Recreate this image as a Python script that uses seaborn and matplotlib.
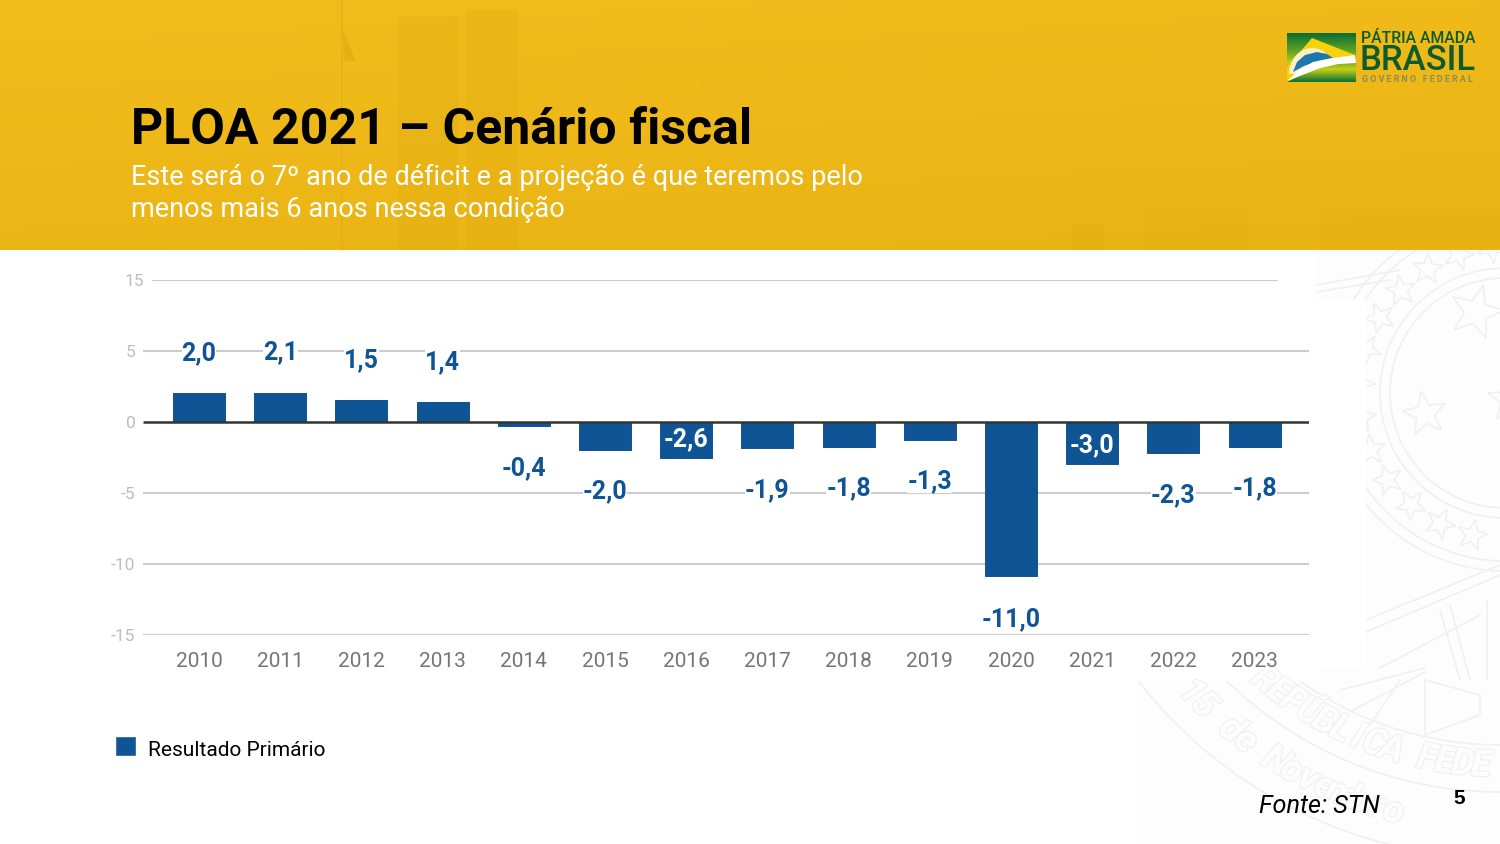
import numpy as np
import pandas as pd
import matplotlib.pyplot as plt
import matplotlib.patheffects as pe
from matplotlib.colors import LinearSegmentedColormap
from matplotlib.patches import Circle, Polygon, Rectangle
from matplotlib.transforms import ScaledTranslation
import seaborn as sns

anos = ["2010", "2011", "2012", "2013", "2014", "2015", "2016",
        "2017", "2018", "2019", "2020", "2021", "2022", "2023"]
# valores escritos nos rotulos
rotulos = [2.0, 2.1, 1.5, 1.4, -0.4, -2.0, -2.6,
           -1.9, -1.8, -1.3, -11.0, -3.0, -2.3, -1.8]
# altura das barras como aparecem no slide
barras = [2.05, 2.05, 1.55, 1.4, -0.3, -1.95, -2.5,
          -1.85, -1.75, -1.25, -10.85, -2.95, -2.2, -1.75]
rotulos_dentro = ["2016", "2021"]
ytick_pos = [10, 5, 0, -5, -10, -15]
ytick_txt = ["15", "5", "0", "-5", "-10", "-15"]

AZUL = "#0F5495"
W, H = 1500, 844

sns.set_theme(style="white")
plt.rcParams["font.family"] = ["Roboto", "DejaVu Sans"]

fig = plt.figure(figsize=(15, 8.44), dpi=100, facecolor="white")


def px_box(x0, y0, x1, y1):
    return [x0 / W, 1 - y1 / H, (x1 - x0) / W, (y1 - y0) / H]


def star(cx, cy, r, rot=0.0):
    ang = np.deg2rad(rot - 90 + np.arange(10) * 36)
    rad = np.where(np.arange(10) % 2 == 0, r, r * 0.42)
    return np.column_stack([cx + rad * np.cos(ang), cy + rad * np.sin(ang)])


def text_on_arc(ax, txt, cx, cy, r, start, step, clip, size):
    for i, ch in enumerate(txt):
        a = start + i * step
        x = cx + r * np.sin(np.deg2rad(a))
        y = cy + r * np.cos(np.deg2rad(a))
        t = ax.text(x, y, ch, rotation=a, rotation_mode="anchor", ha="center", va="center",
                    fontsize=size, fontweight="bold", fontstyle="italic", color="#fdfdfd", zorder=2,
                    path_effects=[pe.withStroke(linewidth=1.4, foreground="#eeeeee")])
        t.set_clip_path(clip)


# fundo: faixa amarela, brasao e logo
bg = fig.add_axes([0, 0, 1, 1], zorder=0)
bg.set_xlim(0, W)
bg.set_ylim(H, 0)
bg.axis("off")

faixa = LinearSegmentedColormap.from_list("faixa", ["#F1BD1B", "#EEB918", "#E9B413"])
gx, gy = np.meshgrid(np.linspace(0, 1, 60), np.linspace(0, 1, 30))
bg.imshow(0.25 * gx + 0.75 * gy, extent=[0, W, 250, 0], cmap=faixa, aspect="auto", zorder=0)

# predios e mastro apagados
for x0, y0, x1, y1, a in [(398, 16, 458, 250, 0.35), (466, 10, 518, 250, 0.35),
                          (1073, 225, 1103, 250, 0.4), (1143, 208, 1250, 250, 0.2),
                          (1320, 210, 1500, 250, 0.2), (0, 240, 170, 250, 0.2)]:
    bg.add_patch(Rectangle((x0, y0), x1 - x0, y1 - y0, fc="#E2AC10", ec="none", alpha=a, zorder=1))
bg.plot([342, 342], [0, 250], color="#DDAA18", lw=1.2, alpha=0.5, zorder=1)
bg.add_patch(Polygon([(343, 30), (356, 62), (344, 60)], fc="#D9A614", ec="none", alpha=0.5, zorder=1))

# brasao (marca d'agua)
recorte = Polygon([(1316, 250), (1316, 300), (1366, 300), (1366, 668), (1320, 668), (1320, 681),
                   (1137, 681), (1137, 844), (1500, 844), (1500, 250)],
                  fc="#FDFDFD", ec="none", zorder=1)
bg.add_patch(recorte)
LINHA = "#F0F0F0"
cx, cy = 1505, 393
for r in [115, 125, 168, 178, 345, 392, 458]:
    c = Circle((cx if r < 300 else 1500, cy if r < 300 else 400), r, fc="none", ec=LINHA, lw=1.2, zorder=2)
    bg.add_patch(c)
    c.set_clip_path(recorte)
for a in np.arange(-175, -5, 13.5):
    pts = star(cx + 146 * np.sin(np.deg2rad(a)), cy + 146 * np.cos(np.deg2rad(a)), 16, rot=-a)
    p = Polygon(pts, fc="none", ec=LINHA, lw=1.2, zorder=2)
    bg.add_patch(p)
    p.set_clip_path(recorte)
for sx, sy, sr, rot in [(1425, 414, 23, -10), (1476, 312, 28, 15), (1510, 400, 23, 0)]:
    p = Polygon(star(sx, sy, sr, rot), fc="none", ec=LINHA, lw=1.2, zorder=2)
    bg.add_patch(p)
    p.set_clip_path(recorte)
for xs, ys in [((1366, 1500), (620, 565)), ((1366, 1500), (632, 575)), ((1380, 1480), (668, 615)),
               ((1425, 1425), (680, 735)), ((1425, 1480), (680, 695)), ((1425, 1480), (735, 715)),
               ((1480, 1480), (695, 715)), ((1316, 1400), (285, 270)), ((1316, 1390), (292, 280)),
               ((1340, 1425), (690, 668)), ((1350, 1425), (712, 672)), ((1370, 1400), (725, 680)),
               ((1487, 1487), (600, 680)), ((1440, 1460), (610, 680)), ((1450, 1470), (605, 680))]:
    ln, = bg.plot(xs, ys, color=LINHA, lw=1.2, zorder=2)
    ln.set_clip_path(recorte)
text_on_arc(bg, "REPÚBLICA FEDE", 1500, 400, 366, -40, 2.85, recorte, 27)
text_on_arc(bg, "15 de Novembro", 1500, 400, 425, -46.6, 2.47, recorte, 27)

# logo
verde = LinearSegmentedColormap.from_list(
    "verde", [(0, "#0B6F33"), (0.4, "#6BAA20"), (0.62, "#C9D012"), (1, "#0B7236")])
grad = np.linspace(0, 1, 50).reshape(-1, 1)
bg.imshow(grad, extent=[1287, 1356, 82, 33], cmap=verde, aspect="auto", zorder=3)
bg.add_patch(Polygon([(1287, 67), (1312, 38), (1355, 55), (1340, 68), (1297, 80), (1287, 82)],
                     fc="#F6D20A", ec="none", zorder=4))
tt = np.linspace(0, np.pi, 30)
bg.add_patch(Polygon(np.column_stack([1312 + 23 * np.cos(tt), 74 - 26 * np.sin(tt)]),
                     fc="#FBEFC4", ec="none", zorder=5))
bg.add_patch(Polygon([(1293, 72), (1297, 62), (1305, 55), (1317, 52), (1327, 54), (1333, 58), (1318, 61), (1304, 66)],
                     fc="#1F77AE", ec="none", zorder=6))
bg.add_patch(Polygon([(1287, 81), (1298, 71), (1313, 62), (1333, 58), (1355, 55), (1356, 63), (1338, 64),
                      (1320, 68), (1297, 77)], fc="white", ec="none", zorder=7))
baixo = Polygon([(1287, 82), (1297, 77), (1320, 68), (1338, 64), (1356, 63), (1356, 82)],
                fc="none", ec="none", zorder=6)
bg.add_patch(baixo)
baixo_img = bg.imshow(grad[20:], extent=[1287, 1356, 82, 62], cmap=verde, vmin=0, vmax=1, aspect="auto", zorder=6)
baixo_img.set_clip_path(baixo)
bg.text(1361, 38.5, "PÁTRIA AMADA", fontsize=11.3, fontweight="medium", color="#0F5A2C", va="center", zorder=8)
bg.text(1360, 61, "BRASIL", fontsize=25, fontweight="medium", color="#0F5A2C", va="center", zorder=8)
bg.text(1362, 79, "G O V E R N O   F E D E R A L", fontsize=6.4, fontweight="bold", color="#8E8A55",
        va="center", zorder=8)
bg.set_xlim(0, W)
bg.set_ylim(H, 0)

# textos do slide
bg.text(131, 131, "PLOA 2021 – Cenário fiscal", fontsize=36, fontweight="bold", color="black", va="center", zorder=8)
bg.text(131, 177.5, "Este será o 7º ano de déficit e a projeção é que teremos pelo",
        fontsize=19.5, color="white", va="center", zorder=8)
bg.text(131, 209.5, "menos mais 6 anos nessa condição", fontsize=19.5, color="white", va="center", zorder=8)
bg.text(1259, 806, "Fonte: STN", fontsize=18.2, fontstyle="italic", color="black", va="center", zorder=8)
bg.text(1459, 799, "5", fontsize=15, fontweight="bold", family="Liberation Sans", color="black",
        ha="center", va="center", zorder=8)

# grafico
df = pd.DataFrame({"ano": anos, "resultado": barras})
ax = fig.add_axes(px_box(143, 280, 1309, 635), zorder=2)
ax.patch.set_alpha(0)
sns.barplot(data=df, x="ano", y="resultado", color=AZUL, saturation=1, width=0.64,
            label="Resultado Primário", ax=ax, zorder=3)
ax.set_xlim(-0.69, 13.67)
ax.set_ylim(-15, 10)
ax.set_xlabel("")
ax.set_ylabel("")
sns.despine(ax=ax, left=True, bottom=True, top=True, right=True)

ax.set_yticks(ytick_pos, ytick_txt)
ax.tick_params(axis="y", length=0, pad=5.5, labelsize=12.5, labelcolor="#BDBDBD")
ax.tick_params(axis="x", length=0, pad=12.5, labelsize=15, labelcolor="#757575")
ytop = ax.get_yticklabels()[0]
ytop.set_transform(ytop.get_transform() + ScaledTranslation(9 / 100, 0, fig.dpi_scale_trans))

ax.hlines([5, -5, -10, -15], 0, 1, transform=ax.get_yaxis_transform(), color="#CCCCCC", lw=1.5, zorder=1)
ax.hlines(10, 9 / 1166, 1135 / 1166, transform=ax.get_yaxis_transform(), color="#CCCCCC", lw=1.5, zorder=1)
ax.hlines(0, 0, 1, transform=ax.get_yaxis_transform(), color="#333333", lw=1.8, zorder=4)

leg = ax.legend(loc="center left", bbox_to_anchor=(115 / W, 1 - 750 / H), bbox_transform=fig.transFigure,
                frameon=False, fontsize=15, labelcolor="black", borderpad=0, borderaxespad=0,
                handlelength=1, handleheight=1, handletextpad=0.58)
marca = leg.legend_handles[0]
marca.set_y(marca.get_y() - (14.6 - marca.get_height()) / 2 + 2.2)
marca.set_height(14.6)

# cantos levemente arredondados
for bar in ax.containers[0]:
    bar.set_edgecolor(AZUL)
    bar.set_linewidth(0.7)
    bar.set_joinstyle("round")

for i, (ano, v) in enumerate(zip(anos, rotulos)):
    if ano in rotulos_dentro:
        desl, cor, caixa = 19.5, "white", None
    elif v > 0:
        desl, cor, caixa = 40, AZUL, dict(fc="white", ec="none", pad=0)
    else:
        desl, cor, caixa = -41, AZUL, dict(fc="white", ec="none", pad=0)
    ax.annotate(f"{v:.1f}".replace(".", ","), (i, v), xytext=(0, desl * 0.72), textcoords="offset points",
                ha="center", va="center", fontsize=18, fontweight="bold", color=cor, bbox=caixa, zorder=5)

fig.savefig("out.png", dpi=100)
